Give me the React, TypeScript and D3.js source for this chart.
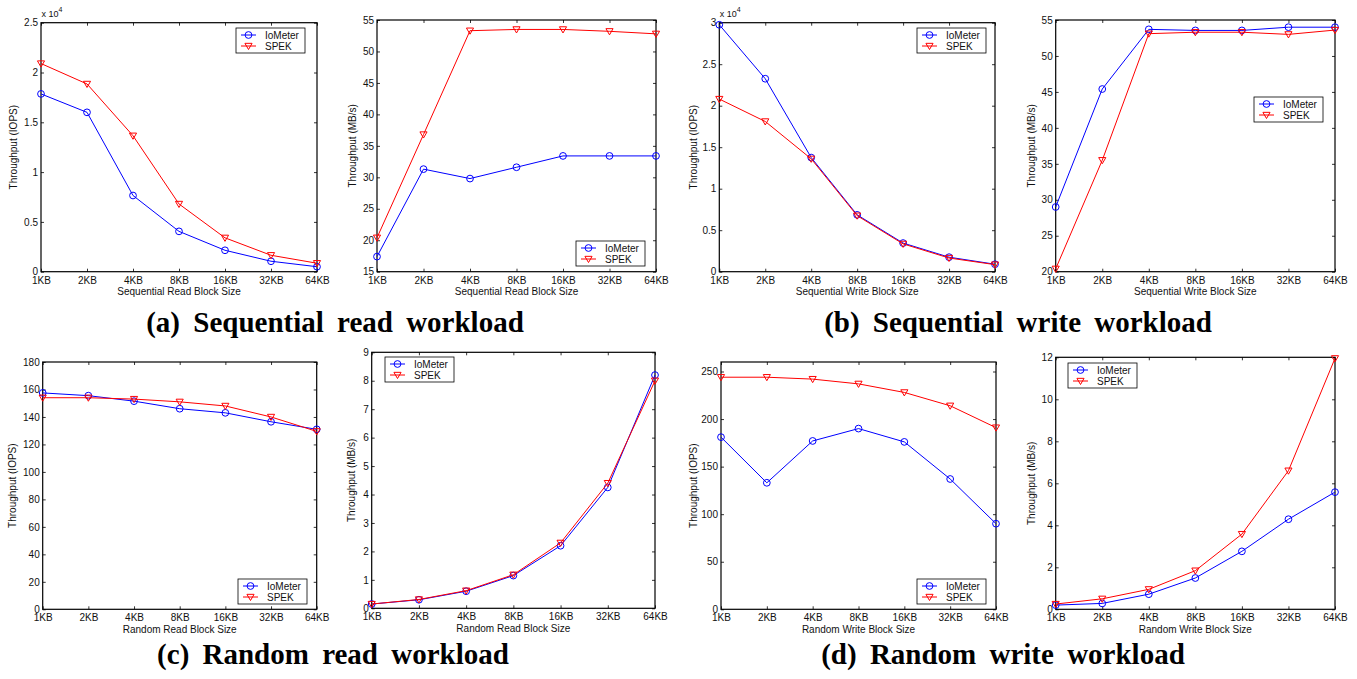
import React, { useEffect, useRef } from 'react';
import * as d3 from 'd3';

const BLOCK_SIZES = ['1KB', '2KB', '4KB', '8KB', '16KB', '32KB', '64KB'];
const SERIES_NAMES = ['IoMeter', 'SPEK'];

// values
const SEQ_READ_IOPS_IOMETER = [17850, 16000, 7650, 4050, 2150, 1050, 500];
const SEQ_READ_IOPS_SPEK = [20900, 18850, 13650, 6800, 3400, 1650, 850];
const SEQ_READ_MBS_IOMETER = [17.4, 31.3, 29.8, 31.6, 33.4, 33.4, 33.4];
const SEQ_READ_MBS_SPEK = [20.4, 36.8, 53.3, 53.5, 53.5, 53.2, 52.8];
const SEQ_WRITE_IOPS_IOMETER = [29750, 23250, 13750, 6850, 3450, 1750, 900];
const SEQ_WRITE_IOPS_SPEK = [20800, 18100, 13600, 6750, 3350, 1650, 850];
const SEQ_WRITE_MBS_IOMETER = [29.0, 45.4, 53.7, 53.55, 53.55, 54.0, 54.0];
const SEQ_WRITE_MBS_SPEK = [20.4, 35.5, 53.1, 53.3, 53.3, 53.0, 53.6];
const RAND_READ_IOPS_IOMETER = [157.5, 155.5, 151.5, 146, 143, 136.5, 131];
const RAND_READ_IOPS_SPEK = [154, 154, 153, 151, 148, 140, 129.5];
const RAND_READ_MBS_IOMETER = [0.15, 0.3, 0.6, 1.15, 2.2, 4.25, 8.2];
const RAND_READ_MBS_SPEK = [0.15, 0.31, 0.62, 1.18, 2.3, 4.4, 8.0];
const RAND_WRITE_IOPS_IOMETER = [181, 133, 177, 190, 176, 137, 90];
const RAND_WRITE_IOPS_SPEK = [244, 244, 242, 237, 228, 214, 191];
const RAND_WRITE_MBS_IOMETER = [0.2, 0.28, 0.72, 1.49, 2.76, 4.29, 5.58];
const RAND_WRITE_MBS_SPEK = [0.25, 0.5, 0.95, 1.84, 3.58, 6.6, 11.95];

// y tick values per panel
const TICKS_SEQ_READ_IOPS = [0, 5000, 10000, 15000, 20000, 25000];
const TICKS_SEQ_READ_MBS = [15, 20, 25, 30, 35, 40, 45, 50, 55];
const TICKS_SEQ_WRITE_IOPS = [0, 5000, 10000, 15000, 20000, 25000, 30000];
const TICKS_SEQ_WRITE_MBS = [20, 25, 30, 35, 40, 45, 50, 55];
const TICKS_RAND_READ_IOPS = [0, 20, 40, 60, 80, 100, 120, 140, 160, 180];
const TICKS_RAND_READ_MBS = [0, 1, 2, 3, 4, 5, 6, 7, 8, 9];
const TICKS_RAND_WRITE_IOPS = [0, 50, 100, 150, 200, 250];
const TICKS_RAND_WRITE_MBS = [0, 2, 4, 6, 8, 10, 12];

const CAPTIONS = [
  '(a) Sequential read workload',
  '(b) Sequential write workload',
  '(c) Random read workload',
  '(d) Random write workload',
];

const IOPS_LABEL = 'Throughput (IOPS)';
const MBS_LABEL = 'Throughput (MB/s)';

const PANELS = [
  { box: [41, 22.7, 317, 271.7], domain: [0, 25000], ticks: TICKS_SEQ_READ_IOPS, series: [SEQ_READ_IOPS_IOMETER, SEQ_READ_IOPS_SPEK], ylabel: IOPS_LABEL, xlabel: 'Sequential Read Block Size', exp: true, legend: [236, 28], yOff: 28 },
  { box: [377, 20, 656, 271.7], domain: [15, 55], ticks: TICKS_SEQ_READ_MBS, series: [SEQ_READ_MBS_IOMETER, SEQ_READ_MBS_SPEK], ylabel: MBS_LABEL, xlabel: 'Sequential Read Block Size', exp: false, legend: [576, 241], yOff: 25 },
  { box: [719.3, 22.7, 995, 271.7], domain: [0, 30000], ticks: TICKS_SEQ_WRITE_IOPS, series: [SEQ_WRITE_IOPS_IOMETER, SEQ_WRITE_IOPS_SPEK], ylabel: IOPS_LABEL, xlabel: 'Sequential Write Block Size', exp: true, legend: [917, 28], yOff: 26 },
  { box: [1055.7, 20, 1335, 271.7], domain: [20, 55], ticks: TICKS_SEQ_WRITE_MBS, series: [SEQ_WRITE_MBS_IOMETER, SEQ_WRITE_MBS_SPEK], ylabel: MBS_LABEL, xlabel: 'Sequential Write Block Size', exp: false, legend: [1254, 97], yOff: 24 },
  { box: [42.7, 362, 316.7, 609.3], domain: [0, 180], ticks: TICKS_RAND_READ_IOPS, series: [RAND_READ_IOPS_IOMETER, RAND_READ_IOPS_SPEK], ylabel: IOPS_LABEL, xlabel: 'Random Read Block Size', exp: false, legend: [238, 579], yOff: 30 },
  { box: [371.7, 352.3, 655, 608.3], domain: [0, 9], ticks: TICKS_RAND_READ_MBS, series: [RAND_READ_MBS_IOMETER, RAND_READ_MBS_SPEK], ylabel: MBS_LABEL, xlabel: 'Random Read Block Size', exp: false, legend: [385, 357], yOff: 20 },
  { box: [721, 362, 996, 609.3], domain: [0, 260], ticks: TICKS_RAND_WRITE_IOPS, series: [RAND_WRITE_IOPS_IOMETER, RAND_WRITE_IOPS_SPEK], ylabel: IOPS_LABEL, xlabel: 'Random Write Block Size', exp: false, legend: [917, 579], yOff: 28 },
  { box: [1055.7, 357.3, 1335, 609.3], domain: [0, 12], ticks: TICKS_RAND_WRITE_MBS, series: [RAND_WRITE_MBS_IOMETER, RAND_WRITE_MBS_SPEK], ylabel: MBS_LABEL, xlabel: 'Random Write Block Size', exp: false, legend: [1068, 363], yOff: 24 },
];

const CAPTION_POS = [
  [335, 332],
  [1018, 332],
  [333, 664],
  [1003, 664],
];

const COLORS = ['#0000ff', '#ff0000'];
const FONT = '"Liberation Sans", Arial, Helvetica, sans-serif';

const App = () => {
  const ref = useRef<SVGSVGElement | null>(null);

  useEffect(() => {
    const svg = d3.select(ref.current);
    svg.selectAll('*').remove();

    const triangle = d3.symbol().type(d3.symbolTriangle).size(22);
    const circle = d3.symbol().type(d3.symbolCircle).size(36);

    const drawMarker = (g: any, kind: number, cx: number, cy: number) => {
      g.append('path')
        .attr('d', kind === 0 ? circle() : triangle())
        .attr('transform', kind === 0 ? `translate(${cx},${cy})` : `translate(${cx},${cy - 0.6}) rotate(180)`)
        .attr('fill', 'none')
        .attr('stroke', COLORS[kind])
        .attr('stroke-width', 1);
    };

    PANELS.forEach((p) => {
      const [left, top, right, bottom] = p.box;
      const g = svg.append('g');
      const x = d3.scalePoint<string>().domain(BLOCK_SIZES).range([left, right]);
      const y = d3.scaleLinear().domain(p.domain).range([bottom, top]);

      const fmt = (d: any) => (p.exp ? String(d / 10000) : String(d));

      const styleAxis = (sel: any) => {
        sel.select('.domain').remove();
        sel.selectAll('.tick line').attr('stroke', '#000').attr('stroke-width', 0.8);
        sel.selectAll('.tick text').attr('fill', '#111').attr('font-size', 10).attr('font-family', FONT);
      };

      g.append('g')
        .attr('transform', `translate(0,${bottom})`)
        .call(d3.axisBottom(x).tickSize(-3).tickSizeOuter(0).tickPadding(5))
        .call(styleAxis);
      g.append('g')
        .attr('transform', `translate(0,${top})`)
        .call(d3.axisTop(x).tickSize(-3).tickSizeOuter(0).tickFormat(() => ''))
        .call(styleAxis);
      g.append('g')
        .attr('transform', `translate(${left},0)`)
        .call(d3.axisLeft(y).tickValues(p.ticks).tickFormat(fmt).tickSize(-3).tickSizeOuter(0).tickPadding(3))
        .call(styleAxis);
      g.append('g')
        .attr('transform', `translate(${right},0)`)
        .call(d3.axisRight(y).tickValues(p.ticks).tickFormat(() => '').tickSize(-3).tickSizeOuter(0))
        .call(styleAxis);

      g.append('rect')
        .attr('x', left)
        .attr('y', top)
        .attr('width', right - left)
        .attr('height', bottom - top)
        .attr('fill', 'none')
        .attr('stroke', '#000')
        .attr('stroke-width', 1.2);

      const line = d3
        .line<number>()
        .x((d, i) => x(BLOCK_SIZES[i]) as number)
        .y((d) => y(d));

      p.series.forEach((values, k) => {
        g.append('path')
          .attr('d', line(values))
          .attr('fill', 'none')
          .attr('stroke', COLORS[k])
          .attr('stroke-width', 1);
        values.forEach((v, i) => drawMarker(g, k, x(BLOCK_SIZES[i]) as number, y(v)));
      });

      // axis labels
      g.append('text')
        .attr('x', (left + right) / 2)
        .attr('y', bottom + 23.5)
        .attr('text-anchor', 'middle')
        .attr('font-family', FONT)
        .attr('font-size', 10)
        .attr('fill', '#111')
        .text(p.xlabel);
      g.append('text')
        .attr('transform', `translate(${left - p.yOff},${(top + bottom) / 2}) rotate(-90)`)
        .attr('text-anchor', 'middle')
        .attr('dy', '0.35em')
        .attr('font-family', FONT)
        .attr('font-size', 10)
        .attr('fill', '#111')
        .text(p.ylabel);

      if (p.exp) {
        const t = g.append('text')
          .attr('x', left + 0.5)
          .attr('y', top - 6)
          .attr('font-family', FONT)
          .attr('font-size', 9)
          .attr('fill', '#111');
        t.append('tspan').text('x 10');
        t.append('tspan').attr('dy', -5).attr('font-size', 7).text('4');
      }

      // legend
      const [lx, ly] = p.legend;
      const lg = g.append('g').attr('transform', `translate(${lx},${ly})`);
      lg.append('rect')
        .attr('width', 69)
        .attr('height', 25)
        .attr('fill', '#fff')
        .attr('stroke', '#000')
        .attr('stroke-width', 0.8);
      SERIES_NAMES.forEach((name, k) => {
        const ry = 7 + k * 11;
        lg.append('line')
          .attr('x1', 5)
          .attr('x2', 20)
          .attr('y1', ry)
          .attr('y2', ry)
          .attr('stroke', COLORS[k])
          .attr('stroke-width', 1);
        drawMarker(lg, k, 12.5, ry);
        lg.append('text')
          .attr('x', 29)
          .attr('y', ry)
          .attr('dy', '0.35em')
          .attr('font-family', FONT)
          .attr('font-size', 10)
          .attr('fill', '#111')
          .text(name);
      });
    });

    CAPTIONS.forEach((c, i) => {
      svg.append('text')
        .attr('x', CAPTION_POS[i][0])
        .attr('y', CAPTION_POS[i][1])
        .attr('text-anchor', 'middle')
        .attr('font-family', '"Liberation Serif", "Times New Roman", Times, serif')
        .attr('font-weight', 'bold')
        .attr('font-size', 29)
        .attr('word-spacing', 6)
        .attr('fill', '#000')
        .text(c);
    });
  }, []);

  return (
    <div style={{ position: 'absolute', left: 0, top: 0 }}>
      <svg ref={ref} width={1357} height={679} style={{ display: 'block', background: '#fff' }} />
    </div>
  );
};

export default App;
